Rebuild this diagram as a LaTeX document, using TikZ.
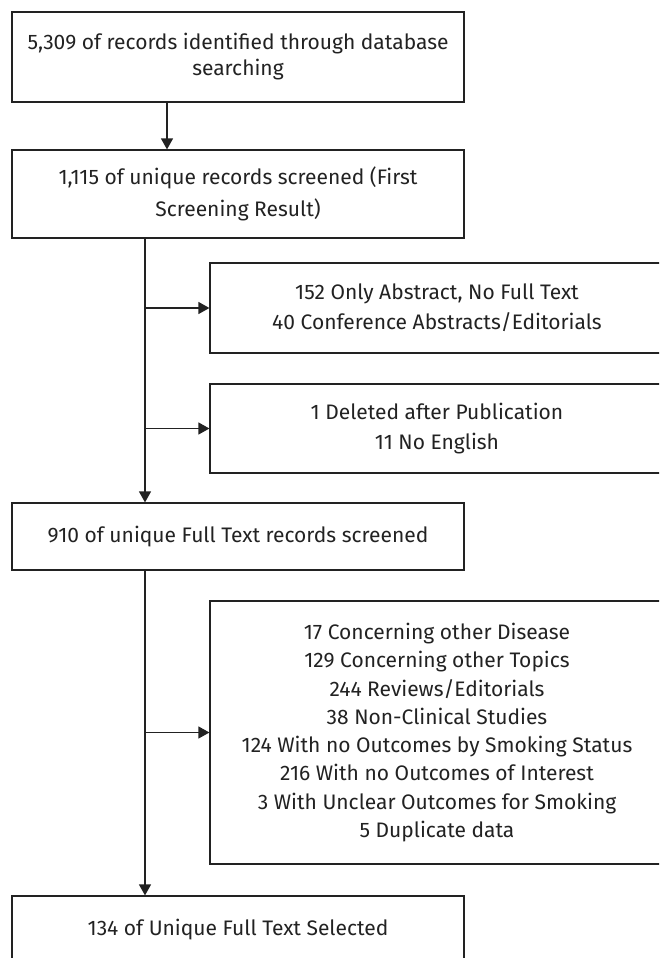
\documentclass[tikz,border=0pt]{standalone}
\usepackage{fontspec}
\setmainfont{Fira Sans}
\usetikzlibrary{arrows.meta}
\definecolor{ink}{HTML}{222222}
\begin{document}
\begin{tikzpicture}[x=1pt,y=-1pt,
  box/.style={draw=ink, line width=1.2pt, align=center, inner sep=0pt, text=ink},
  fs/.style={font=\fontsize{21}{#1}\selectfont},
  arr/.style={draw=ink, line width=1.2pt, -{Triangle[length=11pt,width=12pt]}},
  ln/.style={draw=ink, line width=1.2pt}]
\useasboundingbox (0,0) rectangle (659,958);
\fill[white] (0,0) rectangle (659,958);
\clip (0,0) rectangle (659,958);
\node[box, fs=26, minimum width=452pt, minimum height=90pt] (b1) at (238,57)
  {5,309 of records identified through database\\searching};
\node[box, fs=32, minimum width=452pt, minimum height=88pt] (b2) at (238,194)
  {1,115 of unique records screened (First\\Screening Result)};
\node[box, fs=28, minimum width=452pt, minimum height=67pt] (b3) at (238,536.5)
  {910 of unique Full Text records screened};
\node[box, fs=28, minimum width=452pt, minimum height=68pt] (b4) at (238,930)
  {134 of Unique Full Text Selected};
\node[box, fs=30, minimum width=454pt, minimum height=90pt] (rA) at (437,308)
  {152 Only Abstract, No Full Text\\40 Conference Abstracts/Editorials};
\node[box, fs=30, minimum width=454pt, minimum height=89pt] (rB) at (437,428.5)
  {1 Deleted after Publication\\11 No English};
\node[box, fs=28.3, minimum width=454pt, minimum height=263pt] (rC) at (437,732.5)
  {17 Concerning other Disease\\129 Concerning other Topics\\244 Reviews/Editorials\\38 Non-Clinical Studies\\124 With no Outcomes by Smoking Status\\216 With no Outcomes of Interest\\3 With Unclear Outcomes for Smoking\\5 Duplicate data};
\coordinate (t0) at ([xshift=-71pt]b1.south);
\coordinate (t1) at ([xshift=-93pt]b2.south);
\coordinate (t2) at ([xshift=-93pt]b3.south);
\draw[arr] (t0) -- (t0 |- b2.north);
\draw[arr] (t1) -- (t1 |- b3.north);
\draw[arr] (t1 |- rA.west) -- (rA.west);
\draw[arr] (t1 |- rB.west) -- (rB.west);
\draw[arr] (t2) -- (t2 |- b4.north);
\draw[arr] (t2 |- rC.west) -- (rC.west);
\end{tikzpicture}
\end{document}
